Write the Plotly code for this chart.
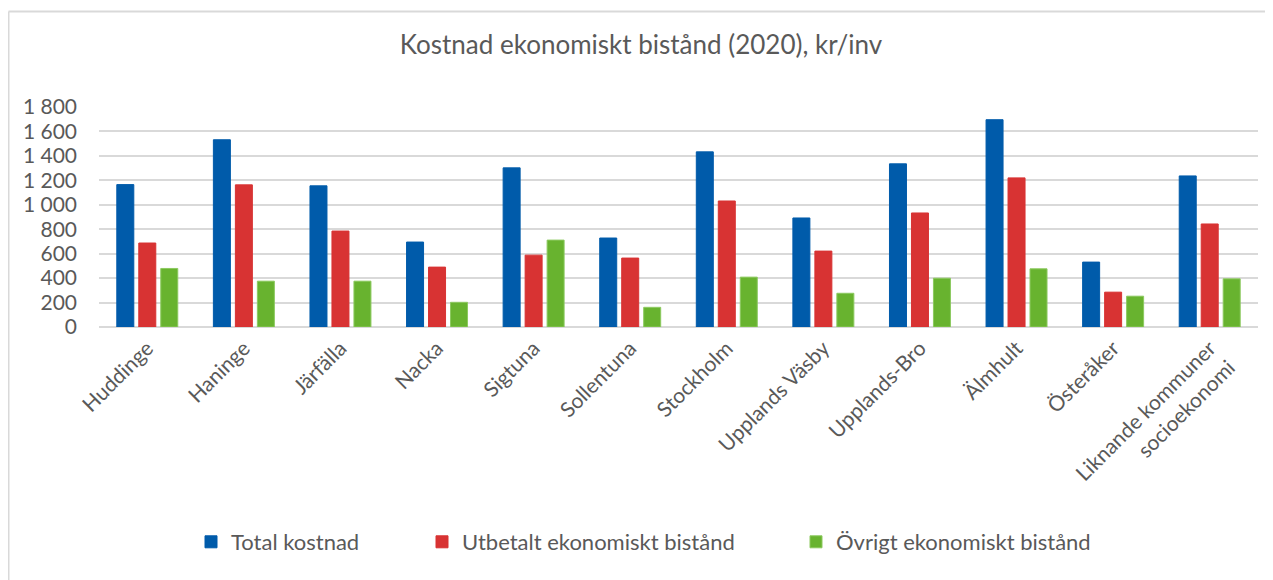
import plotly.graph_objects as go

categories = ["Huddinge", "Haninge", "Järfälla", "Nacka", "Sigtuna", "Sollentuna",
              "Stockholm", "Upplands Väsby", "Upplands-Bro", "Älmhult", "Österåker",
              "Liknande kommuner<br>socioekonomi"]
total = [1165, 1532, 1155, 695, 1302, 728, 1433, 892, 1335, 1696, 531, 1236]
utbetalt = [687, 1163, 785, 490, 588, 564, 1031, 621, 933, 1220, 285, 843]
ovrigt = [479, 375, 375, 202, 711, 161, 408, 276, 399, 476, 252, 394]
series_names = ["Total kostnad", "Utbetalt ekonomiskt bistånd", "Övrigt ekonomiskt bistånd"]
y_ticks = [0, 200, 400, 600, 800, 1000, 1200, 1400, 1600, 1800]

# page has an 8px body margin; figure is sized to fill the rest of the window
OFF = 8
W, H = 1273 - OFF, 580 - OFF
L, R, T = 99 - OFF, 15, 107 - OFF
B = H - (327 - OFF)
PW, PH = W - L - R, H - T - B

def px(x):
    return (x - OFF - L) / PW

def py(y):
    return (H - B - (y - OFF)) / PH

FONT = "Lato"
GREY = "#595959"

colors = ["#005BAA", "#D83333", "#68B32F"]
lines = ["#005BAA", "#D83333", "#8CC95F"]
values = [total, utbetalt, ovrigt]
legend_ids = ["legend", "legend2", "legend3"]

fig = go.Figure()
for name, vals, c, lc, lg in zip(series_names, values, colors, lines, legend_ids):
    fig.add_trace(go.Bar(x=categories, y=vals, name=name, legend=lg,
                         marker=dict(color=c, line=dict(color=lc, width=1))))

legend_text_x = [231, 462, 836]
common_legend = dict(orientation="h", yanchor="middle", xanchor="left",
                     font=dict(family=FONT, size=22, color=GREY),
                     bgcolor="rgba(0,0,0,0)", itemwidth=30)
legs = {}
for lg, tx in zip(legend_ids, legend_text_x):
    legs[lg] = dict(common_legend, x=px(tx - 40), y=py(542))

fig.update_layout(
    width=W, height=H,
    margin=dict(l=L, r=R, t=T, b=B),
    paper_bgcolor="white", plot_bgcolor="white",
    separators=", ",
    barmode="group", bargap=0.317, bargroupgap=0.227,
    title=dict(text="Kostnad ekonomiskt bistånd (2020), kr/inv",
               x=(641 - OFF) / W, xref="container", xanchor="center",
               y=1 - (45 - OFF) / H, yref="container", yanchor="middle",
               font=dict(family=FONT, size=26, color=GREY)),
    showlegend=True,
    **legs,
    xaxis=dict(tickangle=-45, tickfont=dict(family=FONT, size=21, color=GREY),
               showgrid=False, showline=False, ticks="", ticklabelstandoff=4),
    yaxis=dict(range=[0, 1800], tickvals=y_ticks, tickformat=",d",
               tickfont=dict(family=FONT, size=21, color=GREY),
               showgrid=True, gridcolor="#D9D9D9", gridwidth=2,
               zeroline=True, zerolinecolor="#D9D9D9", zerolinewidth=2,
               showline=False, ticks="", ticklabelstandoff=21),
    shapes=[
        dict(type="line", xref="paper", yref="paper", x0=px(8.5), x1=px(1273),
             y0=py(11.5), y1=py(11.5), line=dict(color="#D9D9D9", width=2)),
        dict(type="line", xref="paper", yref="paper", x0=px(8.5), x1=px(8.5),
             y0=py(11.5), y1=py(580), line=dict(color="#D9D9D9", width=2)),
    ],
)

fig.write_html("out.html")
